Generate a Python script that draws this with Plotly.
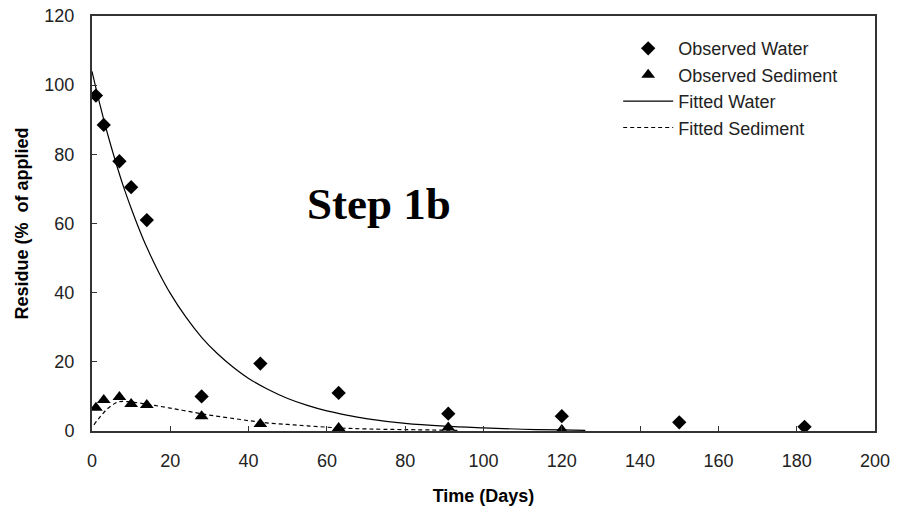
import plotly.graph_objects as go

# Observed data
water_days = [1, 3, 7, 10, 14, 28, 43, 63, 91, 120, 150, 182]
water_obs = [97, 88.5, 78, 70.5, 61, 10, 19.5, 11, 5, 4.3, 2.5, 1.2]

sed_days = [1, 3, 7, 10, 14, 28, 43, 63, 91, 120]
sed_obs = [6.7, 9, 9.8, 7.8, 7.5, 4.3, 2.0, 0.9, 1.0, 0.3]

# Fitted curves
fit_water_days = [0, 2, 4, 6, 8, 10, 12, 14, 17, 20, 24, 28, 32, 36, 40, 45, 50, 55, 60, 65, 70, 80, 90, 100, 110, 120, 126]
fit_water = [104, 94.5, 85.8, 78.0, 70.8, 64.4, 58.5, 53.1, 46.0, 39.8, 32.9, 27.1, 22.4, 18.5, 15.2, 12.0, 9.4, 7.4, 5.8, 4.6, 3.6, 2.2, 1.4, 0.9, 0.5, 0.3, 0.2]

fit_sed_days = [0.5, 2, 4, 6, 7, 9, 12, 16, 20, 25, 30, 35, 40, 45, 50, 55, 63, 70, 80, 94]
fit_sed = [1.8, 4.0, 6.5, 8.1, 8.5, 8.5, 8.1, 7.4, 6.6, 5.6, 4.6, 3.8, 3.0, 2.3, 1.9, 1.5, 0.9, 0.6, 0.4, 0.2]

x_ticks = list(range(0, 201, 20))
y_ticks = list(range(0, 121, 20))

FONT = "Liberation Sans, Arial, sans-serif"

fig = go.Figure()
fig.add_trace(go.Scatter(x=water_days, y=water_obs, mode="markers", name="Observed Water",
                         marker=dict(symbol="diamond", size=11, color="black")))
fig.add_trace(go.Scatter(x=sed_days, y=sed_obs, mode="markers", name="Observed Sediment",
                         marker=dict(symbol="triangle-up", size=12, color="black")))
fig.add_trace(go.Scatter(x=fit_water_days, y=fit_water, mode="lines", name="Fitted Water",
                         line=dict(color="black", width=1.2, shape="spline")))
fig.add_trace(go.Scatter(x=fit_sed_days, y=fit_sed, mode="lines", name="Fitted Sediment",
                         line=dict(color="black", width=1.2, dash="4px,3px", shape="spline")))

fig.add_annotation(text="<b>Step 1b</b>", x=0.366, y=0.548, xref="paper", yref="paper",
                   showarrow=False, font=dict(family="Liberation Serif, Times New Roman, serif", size=45, color="black"))

axis_common = dict(showline=True, linecolor="#333333", linewidth=2, mirror=True,
                   ticks="inside", ticklen=5, tickcolor="#333333", tickwidth=1,
                   showgrid=False, zeroline=False, automargin=False,
                   ticklabeloverflow="allow",
                   tickfont=dict(family=FONT, size=18, color="#222222"))

fig.update_xaxes(range=[0, 200], tickvals=x_ticks, ticklabelstandoff=12,
                 title=dict(text="<b>Time (Days)</b>", font=dict(family=FONT, size=18, color="black"), standoff=20),
                 **axis_common)
fig.update_yaxes(range=[0, 120], tickvals=y_ticks, ticklabelstandoff=12,
                 title=dict(text="<b>Residue (%  of applied</b>", font=dict(family=FONT, size=18, color="black"), standoff=11),
                 **axis_common)

fig.update_layout(
    width=904, height=509,
    margin=dict(l=92, r=29, t=16, b=78),
    paper_bgcolor="white", plot_bgcolor="white",
    showlegend=True,
    legend=dict(x=0.672, y=0.966, xanchor="left", yanchor="top",
                font=dict(family=FONT, size=18, color="#222222"),
                bgcolor="rgba(0,0,0,0)", itemwidth=50),
)

# remove the default 8px page margin so the figure fills the window exactly
fig.write_html("out.html", config={"displayModeBar": False},
               post_script="document.body.style.margin='0';")
